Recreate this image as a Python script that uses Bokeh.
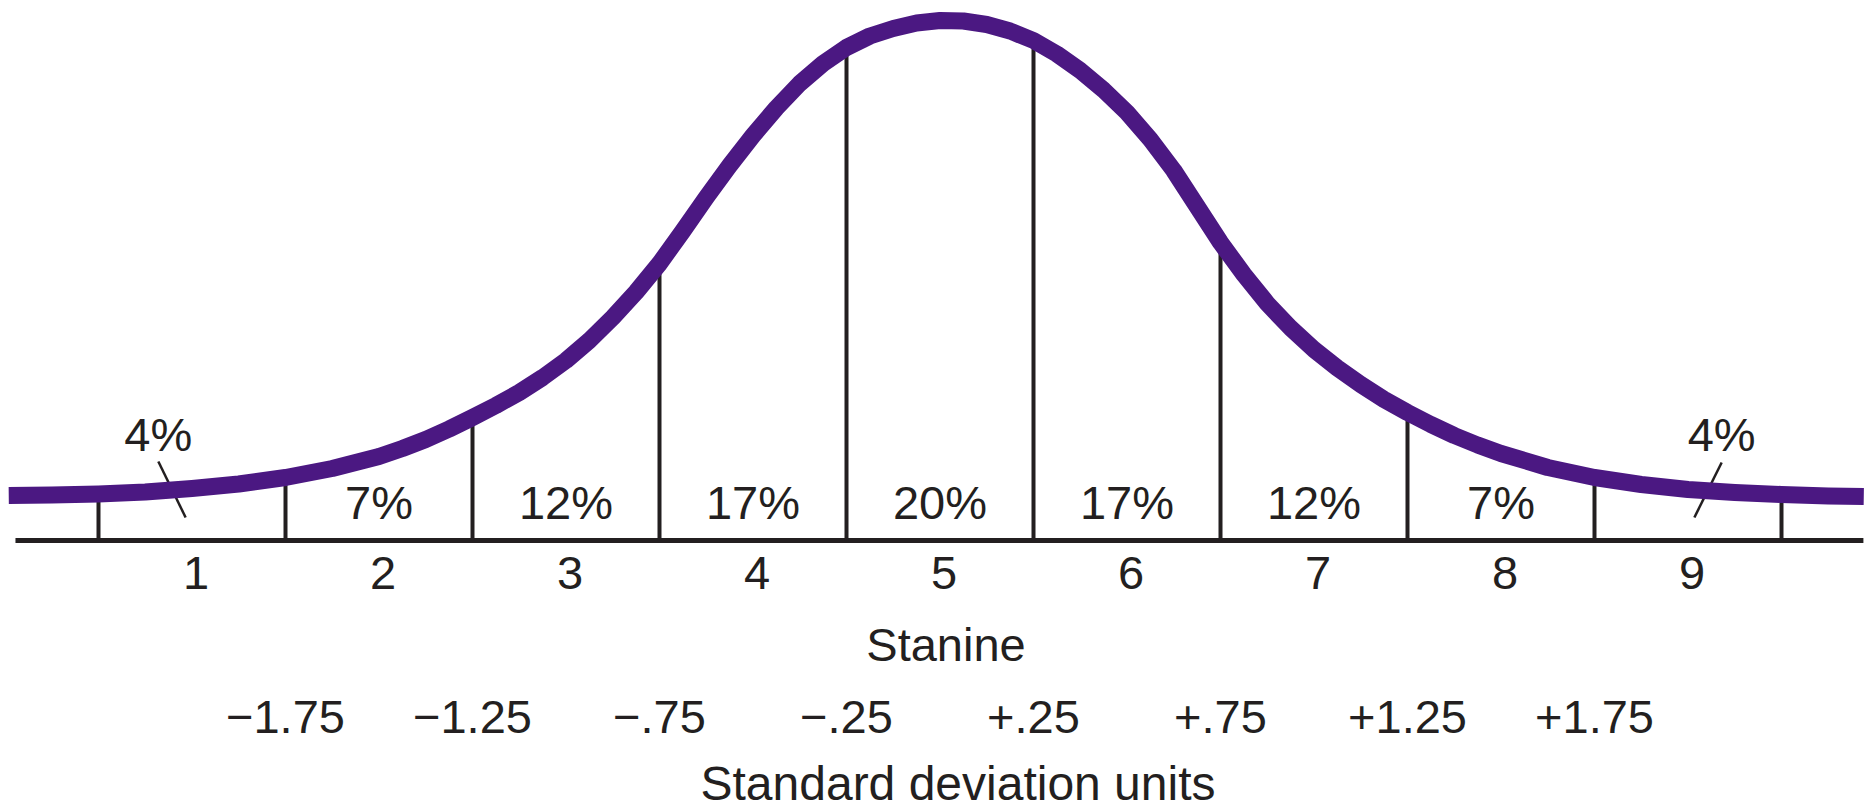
from bokeh.plotting import figure
from bokeh.models import Range1d, ColumnDataSource
from bokeh.core.properties import value
from bokeh.embed import file_html
from bokeh.resources import INLINE

# ---------------- data ----------------
stanines = ["1", "2", "3", "4", "5", "6", "7", "8", "9"]
percents = ["4%", "7%", "12%", "17%", "20%", "17%", "12%", "7%", "4%"]
# stanine boundaries in standard-deviation units
boundary_z = [-2.25, -1.75, -1.25, -0.75, -0.25, 0.25, 0.75, 1.25, 1.75, 2.25]
sd_positions = [-1.75, -1.25, -0.75, -0.25, 0.25, 0.75, 1.25, 1.75]
sd_labels = ["\u22121.75", "\u22121.25", "\u2212.75", "\u2212.25", "+.25", "+.75", "+1.25", "+1.75"]

# curve (x in SD units, height above the baseline in px)
curve_z = [-2.49, -2.375, -2.25, -2.125, -2.0, -1.875, -1.75, -1.625, -1.5,
           -1.4375, -1.375, -1.3125, -1.25, -1.1875, -1.125, -1.0625, -1.0,
           -0.9375, -0.875, -0.8125, -0.75, -0.6875, -0.625, -0.5625, -0.5,
           -0.4375, -0.375, -0.3125, -0.25, -0.1875, -0.125, -0.0625, 0.0,
           0.0625, 0.125, 0.1875, 0.25, 0.3125, 0.375, 0.4375, 0.5,
           0.5625, 0.625, 0.6875, 0.75, 0.8125, 0.875, 0.9375, 1.0,
           1.0625, 1.125, 1.1875, 1.25, 1.3125, 1.375, 1.4375, 1.5,
           1.625, 1.75, 1.875, 2.0, 2.125, 2.25, 2.375, 2.47]
curve_h = [45, 45.5, 46.5, 48.5, 52, 56.5, 63, 72, 84,
           92, 101, 111.5, 123, 135, 148, 163, 180,
           200, 223, 248.5, 277, 309.5, 343, 375, 405,
           432.5, 457, 477, 493, 504.5, 512, 517.5, 520,
           519.5, 516, 509.5, 500, 486.5, 470, 450.5, 428,
           401, 370, 334, 298, 266, 237, 212.5, 191,
           172.5, 156, 141, 128, 116, 105, 95.5, 87,
           73, 63, 56, 51, 48, 46, 44.5, 44]
baseline_extent = [-2.472, 2.469]

# ---------------- style ----------------
PURPLE = "#4b1882"
INK = "#231f20"
FONT = value("Liberation Sans")
FS = "47px"

p = figure(width=1874, height=811, output_backend="svg", toolbar_location=None,
           x_range=Range1d(-2.51203, 2.49866), y_range=Range1d(-271, 540),
           x_axis_location=None, y_axis_location=None, min_border=0,
           background_fill_color="white", border_fill_color="white")
p.outline_line_color = None
p.grid.visible = False

# baseline
p.segment(x0=[baseline_extent[0]], x1=[baseline_extent[1]], y0=[0], y1=[0],
          line_color=INK, line_width=5)

# vertical boundary lines up to the curve
tops = [curve_h[curve_z.index(b)] for b in boundary_z]
p.segment(x0=boundary_z, x1=boundary_z, y0=[0] * len(boundary_z), y1=tops,
          line_color=INK, line_width=4)

# stanine centres
centers = [(boundary_z[i] + boundary_z[i + 1]) / 2 for i in range(len(stanines))]

# percent labels (inner ones inside the bands, outer ones above with a leader)
OUT_DX = 0.09
inner_idx = list(range(1, 8))
src_in = ColumnDataSource(dict(x=[centers[i] for i in inner_idx],
                               y=[38] * len(inner_idx),
                               t=[percents[i] for i in inner_idx]))
p.text(x="x", y="y", text="t", source=src_in, text_align="center",
       text_baseline="alphabetic", text_font=FONT, text_font_size=FS, text_color=INK)

outer_idx = [0, 8]
sign = [-1, 1]
lab_x = [centers[i] + s * OUT_DX for i, s in zip(outer_idx, sign)]
src_out = ColumnDataSource(dict(x=lab_x, y=[106, 106], t=[percents[i] for i in outer_idx]))
p.text(x="x", y="y", text="t", source=src_out, text_align="center",
       text_baseline="alphabetic", text_font=FONT, text_font_size=FS, text_color=INK)
p.segment(x0=lab_x, y0=[79, 78],
          x1=[centers[i] + s * 0.017 for i, s in zip(outer_idx, sign)], y1=[23, 23],
          line_color=INK, line_width=2.5)

# the curve
p.line(curve_z, curve_h, line_color=PURPLE, line_width=17,
       line_join="round", line_cap="butt")

# stanine numbers
p.text(x=centers, y=[-32] * 9, text=stanines, text_align="center",
       text_baseline="alphabetic", text_font=FONT, text_font_size=FS, text_color=INK,
       x_offset=4)

# titles and SD labels
p.text(x=[0], y=[-104], text=["Stanine"], text_align="center",
       text_baseline="alphabetic", text_font=FONT, text_font_size=FS, text_color=INK,
       x_offset=6)
p.text(x=sd_positions, y=[-176] * len(sd_positions), text=sd_labels, text_align="center",
       text_baseline="alphabetic", text_font=FONT, text_font_size=FS, text_color=INK)
p.text(x=[0], y=[-243], text=["Standard deviation units"], text_align="center",
       text_baseline="alphabetic", text_font=FONT, text_font_size="48px", text_color=INK,
       x_offset=18)

open("out.html", "w").write(file_html(p, INLINE))
